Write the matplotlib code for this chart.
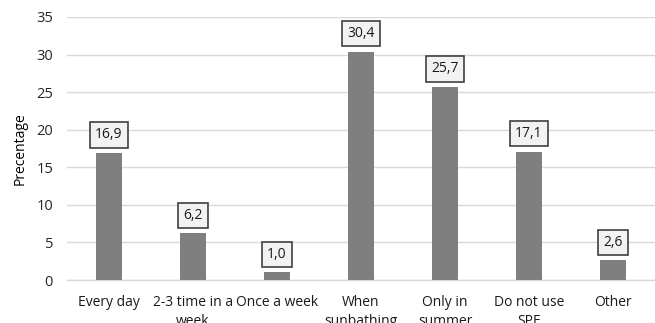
import matplotlib.pyplot as plt

categories = ["Every day", "2-3 time in a\nweek", "Once a week", "When\nsunbathing",
              "Only in\nsummer", "Do not use\nSPF", "Other"]
values = [16.9, 6.2, 1.0, 30.4, 25.7, 17.1, 2.6]
yticks = [0, 5, 10, 15, 20, 25, 30, 35]

plt.rcParams['font.family'] = ['Open Sans', 'DejaVu Sans']

fig = plt.figure(figsize=(6.55, 3.23), dpi=100)
ax = fig.add_axes([67 / 655, 43 / 323, 588 / 655, 263 / 323])

x = list(range(len(categories)))
ax.bar(x, values, width=0.31, color="#7f7f7f", zorder=3)

for xi, v in zip(x, values):
    ax.annotate(f"{v:.1f}".replace(".", ","), (xi, v), xytext=(0, 13),
                textcoords="offset points", ha="center", va="center",
                fontsize=10, color="#1a1a1a", zorder=4,
                bbox=dict(boxstyle="square,pad=0.38", fc="#f2f2f2", ec="#404040", lw=1.2))

ax.set_xlim(-0.5, len(categories) - 0.5)
ax.set_ylim(0, 35)
ax.set_yticks(yticks)
ax.set_xticks(x)
ax.set_xticklabels(categories, fontsize=10, linespacing=1.35)
ax.tick_params(axis="y", labelsize=10.5, length=0, pad=10, labelcolor="#262626")
ax.tick_params(axis="x", length=0, pad=11, labelcolor="#1a1a1a")
ax.grid(axis="y", color="#d9d9d9", lw=1, zorder=0)
for s in ["top", "right", "left"]:
    ax.spines[s].set_visible(False)
ax.spines["bottom"].set_color("#d9d9d9")
ax.spines["bottom"].set_linewidth(1)
ax.set_ylabel("Precentage", fontsize=10, labelpad=6)

fig.savefig("out.png", dpi=100)
